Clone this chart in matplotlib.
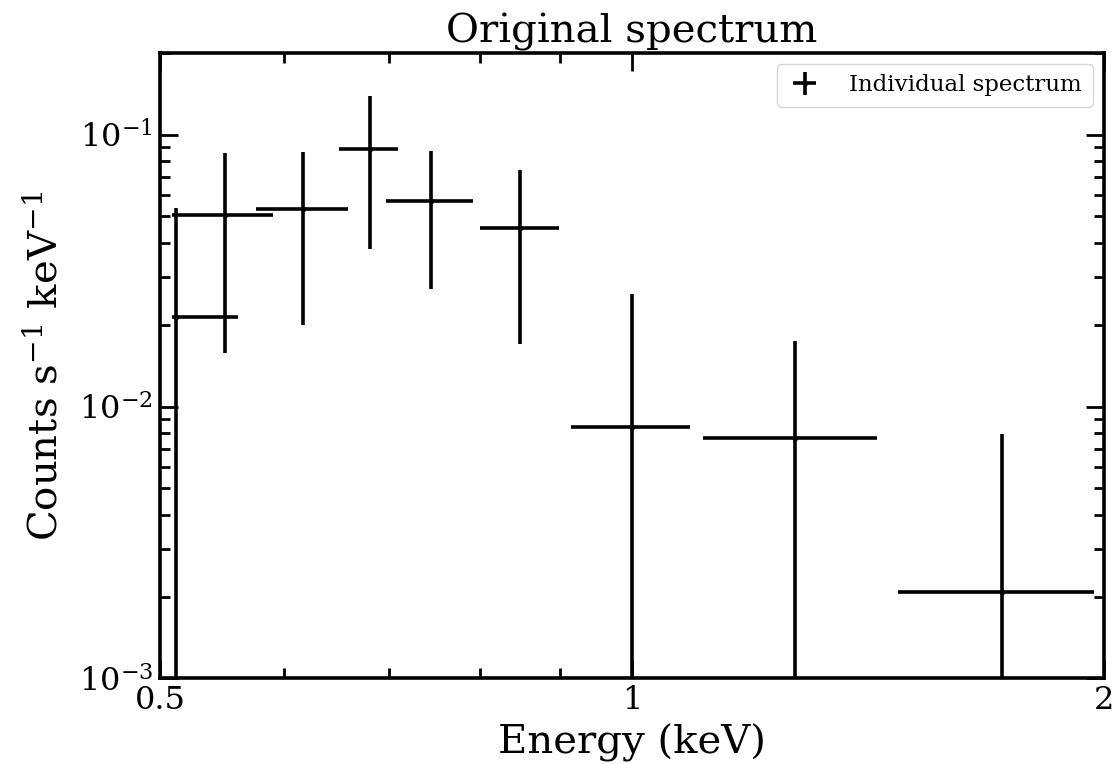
import matplotlib
matplotlib.use("Agg")
import matplotlib.pyplot as plt
from matplotlib.ticker import FixedLocator, FixedFormatter, NullFormatter, LogLocator

plt.rcParams['font.family'] = ['DejaVu Serif']
plt.rcParams['mathtext.fontset'] = 'dejavuserif'

# Data
energy = [0.5117, 0.5501, 0.6172, 0.6807, 0.7445, 0.8483, 1.0007, 1.2708, 1.7231]
energy_err_lo = [0.0030, 0.0414, 0.0416, 0.0303, 0.0476, 0.0484, 0.0868, 0.1605, 0.2444]
energy_err_hi = [0.0493, 0.0404, 0.0421, 0.0289, 0.0469, 0.0504, 0.0882, 0.1617, 0.2480]
counts = [0.02141, 0.05047, 0.05327, 0.08841, 0.05714, 0.04550, 0.008434, 0.007685, 0.002077]
counts_err = [0.03245, 0.03480, 0.03330, 0.05060, 0.03000, 0.02855, 0.01749, 0.00970, 0.00583]

xticks = [0.5, 1, 2]
xticklabels = ['0.5', '1', '2']

fig = plt.figure(figsize=(11.15, 7.64), dpi=100)
ax = fig.add_axes([0.1435, 0.112, 0.8466, 0.819])

ax.errorbar(energy, counts, xerr=[energy_err_lo, energy_err_hi], yerr=counts_err,
            fmt='o', color='black', markersize=3, elinewidth=2.6, capsize=0,
            label='Individual spectrum')

ax.set_xscale('log')
ax.set_yscale('log')
ax.set_xlim(0.5, 2)
ax.set_ylim(1e-3, 0.2)

ax.xaxis.set_major_locator(FixedLocator(xticks))
ax.xaxis.set_major_formatter(FixedFormatter(xticklabels))
ax.xaxis.set_minor_formatter(NullFormatter())
ax.yaxis.set_major_locator(LogLocator(base=10))
ax.yaxis.set_minor_locator(LogLocator(base=10, subs=range(2, 10)))

ax.tick_params(which='both', direction='in', top=True, right=True, width=2)
ax.tick_params(which='major', length=13, labelsize=23, pad=5)
ax.tick_params(which='minor', length=7)
for s in ax.spines.values():
    s.set_linewidth(2.6)

ax.set_xlabel('Energy (keV)', fontsize=29, labelpad=5)
ax.set_ylabel('Counts s$^{-1}$ keV$^{-1}$', fontsize=29, labelpad=10)
ax.set_title('Original spectrum', fontsize=29, pad=7)

ax.legend(loc='upper right', fontsize=16.5, handlelength=1.5, borderpad=0.45,
          handletextpad=1.2)

fig.savefig('out.png', dpi=100)
